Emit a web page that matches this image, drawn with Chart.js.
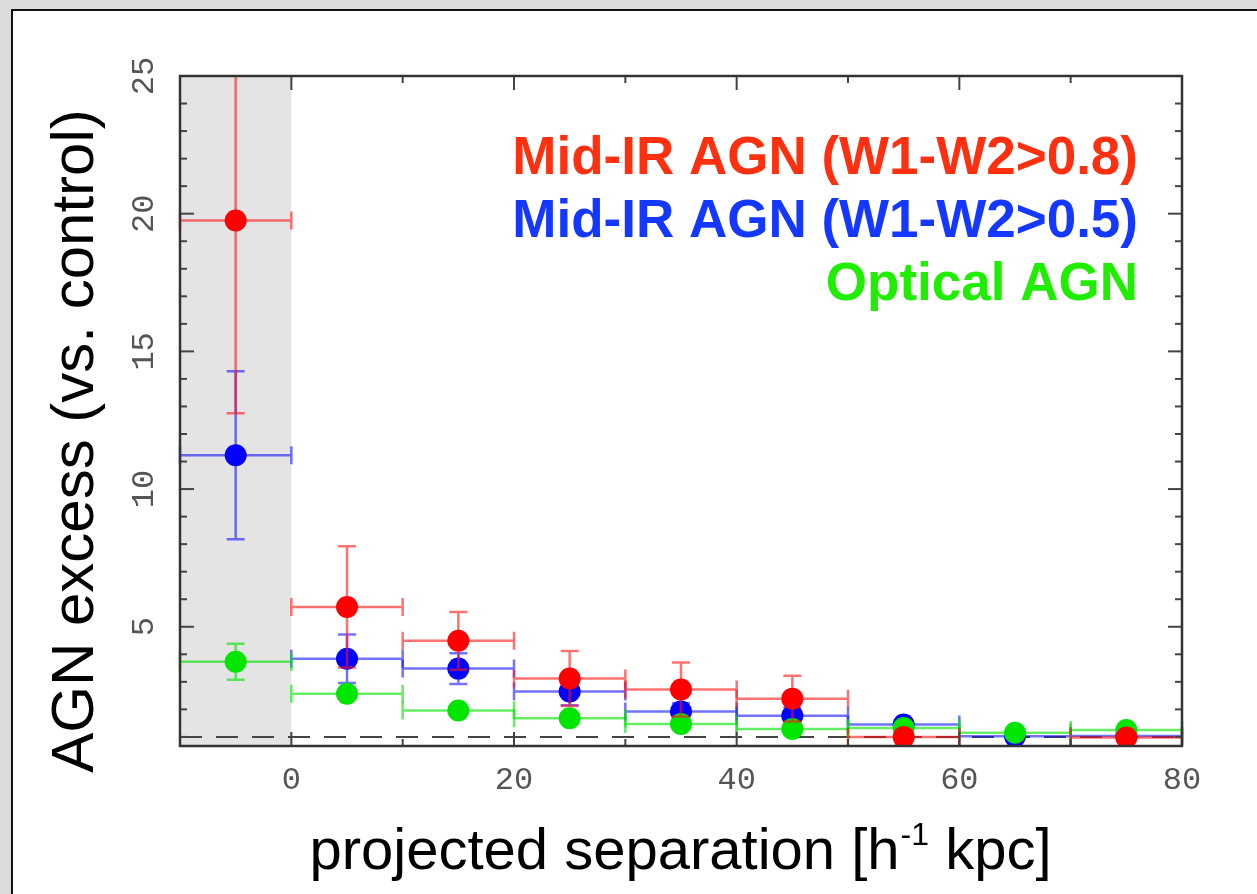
<!DOCTYPE html>
<html>
<head>
<meta charset="utf-8">
<script src="https://cdn.jsdelivr.net/npm/chart.js@4.4.1/dist/chart.umd.min.js"></script>
<style>
  html, body { margin: 0; padding: 0; width: 1257px; height: 894px; overflow: hidden; background: #dcdcdc; }
  #panel { position: absolute; left: 11px; top: 9px; width: 1300px; height: 940px; background: #fff; border: 2px solid #111; }
  #excess-chart { position: absolute; left: 0; top: 0; }
</style>
</head>
<body>
<div id="panel"></div>
<canvas id="excess-chart" width="1257" height="894"></canvas>
<script>
// bin centres of projected separation (h^-1 kpc), each bin 10 kpc wide
const binCenters = [-5, 5, 15, 25, 35, 45, 55, 65, 75];
const binHalfWidth = 5;

// Mid-IR AGN (W1-W2>0.8)
const midIr08Excess = [19.75, 5.72, 4.49, 3.12, 2.72, 2.39, 1.0, null, 0.98];
const midIr08Error  = [7.0, 2.2, 1.05, 1.0, 0.98, 0.83, 0.25, null, 0.2];

// Mid-IR AGN (W1-W2>0.5)
const midIr05Excess = [11.23, 3.84, 3.48, 2.65, 1.92, 1.77, 1.45, 1.02, 1.03];
const midIr05Error  = [3.05, 0.88, 0.56, 0.5, 0.3, 0.3, 0.15, 0.05, 0.03];

// Optical AGN
const opticalExcess = [3.73, 2.57, 1.96, 1.68, 1.47, 1.29, 1.32, 1.15, 1.25];
const opticalError  = [0.65, 0.1, 0.08, 0.07, 0.06, 0.06, 0.05, 0.05, 0.05];

const xMajorTicks = [0, 20, 40, 60, 80];
const xMinorTicks = [-10, 10, 30, 50, 70];
const yMajorTicks = [5, 10, 15, 20, 25];
const yMinorTicks = [1, 2, 3, 4, 6, 7, 8, 9, 11, 12, 13, 14, 16, 17, 18, 19, 21, 22, 23, 24];

const legendLines = [
  { text: 'Mid-IR AGN (W1-W2>0.8)', color: '#ff3010' },
  { text: 'Mid-IR AGN (W1-W2>0.5)', color: '#1438ff' },
  { text: 'Optical AGN', color: '#20ee00' }
];

function toPoints(values, errors) {
  return binCenters.map((x, i) => values[i] == null ? null : { x: x, y: values[i], err: errors[i] })
    .filter(p => p !== null);
}

// error bars are drawn right before each dataset's dots
const errorBarPlugin = {
  id: 'errorBars',
  beforeDatasetDraw(chart, args) {
    const { ctx, chartArea } = chart;
    const ds = chart.data.datasets[args.index];
    const xs = chart.scales.x, ys = chart.scales.y;
    ctx.save();
    ctx.beginPath();
    ctx.rect(chartArea.left - 10, chartArea.top, chartArea.width + 20, chartArea.height);
    ctx.clip();
    ctx.strokeStyle = ds.barColor;
    ctx.lineWidth = 2.5;
    ds.data.forEach(p => {
      const px = xs.getPixelForValue(p.x);
      const py = ys.getPixelForValue(p.y);
      const x0 = xs.getPixelForValue(p.x - binHalfWidth);
      const x1 = xs.getPixelForValue(p.x + binHalfWidth);
      ctx.beginPath();
      ctx.moveTo(x0, py); ctx.lineTo(x1, py);
      ctx.moveTo(x0, py - 9); ctx.lineTo(x0, py + 9);
      ctx.moveTo(x1, py - 9); ctx.lineTo(x1, py + 9);
      if (p.err > 0) {
        const yTop = ys.getPixelForValue(p.y + p.err);
        const yBot = ys.getPixelForValue(p.y - p.err);
        ctx.moveTo(px, yTop); ctx.lineTo(px, yBot);
        ctx.moveTo(px - 9, yTop); ctx.lineTo(px + 9, yTop);
        ctx.moveTo(px - 9, yBot); ctx.lineTo(px + 9, yBot);
      }
      ctx.stroke();
    });
    ctx.restore();
  }
};

// shaded innermost bin and the unity line
const backgroundPlugin = {
  id: 'plotBackground',
  beforeDatasetsDraw(chart) {
    const { ctx, chartArea } = chart;
    const xs = chart.scales.x, ys = chart.scales.y;
    ctx.save();
    ctx.fillStyle = '#e4e4e4';
    const xs0 = xs.getPixelForValue(-10), xs1 = xs.getPixelForValue(0);
    ctx.fillRect(xs0, chartArea.top, xs1 - xs0, chartArea.height);
    ctx.strokeStyle = '#444';
    ctx.lineWidth = 2;
    ctx.setLineDash([22, 14]);
    const y1 = ys.getPixelForValue(1);
    ctx.beginPath();
    ctx.moveTo(chartArea.left, y1);
    ctx.lineTo(chartArea.right, y1);
    ctx.stroke();
    ctx.restore();
  }
};

// box frame with inward ticks, tick labels, axis titles and text legend
const framePlugin = {
  id: 'frame',
  afterDraw(chart) {
    const { ctx, chartArea: a } = chart;
    const xs = chart.scales.x, ys = chart.scales.y;
    ctx.save();
    ctx.strokeStyle = '#444';
    ctx.lineWidth = 2;
    const tick = (x0, y0, x1, y1) => { ctx.beginPath(); ctx.moveTo(x0, y0); ctx.lineTo(x1, y1); ctx.stroke(); };
    xMajorTicks.forEach(v => {
      const px = xs.getPixelForValue(v);
      tick(px, a.bottom, px, a.bottom - 14);
      tick(px, a.top, px, a.top + 14);
    });
    xMinorTicks.forEach(v => {
      const px = xs.getPixelForValue(v);
      tick(px, a.bottom, px, a.bottom - 7);
      tick(px, a.top, px, a.top + 7);
    });
    yMajorTicks.forEach(v => {
      const py = ys.getPixelForValue(v);
      tick(a.left, py, a.left + 14, py);
      tick(a.right, py, a.right - 14, py);
    });
    yMinorTicks.forEach(v => {
      const py = ys.getPixelForValue(v);
      tick(a.left, py, a.left + 7, py);
      tick(a.right, py, a.right - 7, py);
    });
    ctx.strokeStyle = '#333';
    ctx.lineWidth = 2.5;
    ctx.strokeRect(a.left, a.top, a.width, a.height);

    // tick labels
    ctx.fillStyle = '#555';
    ctx.font = '32px "Liberation Mono"';
    ctx.textAlign = 'center';
    ctx.textBaseline = 'middle';
    xMajorTicks.forEach(v => ctx.fillText(String(v), xs.getPixelForValue(v), 781));
    yMajorTicks.forEach(v => {
      ctx.save();
      ctx.translate(144, ys.getPixelForValue(v));
      ctx.rotate(-Math.PI / 2);
      ctx.fillText(String(v), 0, 1);
      ctx.restore();
    });

    // axis titles
    ctx.fillStyle = '#000';
    ctx.save();
    ctx.translate(76, 441);
    ctx.rotate(-Math.PI / 2);
    ctx.font = '60px "Liberation Sans"';
    ctx.textAlign = 'center';
    ctx.textBaseline = 'middle';
    ctx.fillText('AGN excess (vs. control)', 0, 0);
    ctx.restore();

    const mainFont = '58px "Liberation Sans"', supFont = '32px "Liberation Sans"';
    const partA = 'projected separation [h', partSup = '-1', partB = ' kpc]';
    ctx.font = mainFont;
    const wA = ctx.measureText(partA).width, wB = ctx.measureText(partB).width;
    ctx.font = supFont;
    const wS = ctx.measureText(partSup).width;
    let tx = 680 - (wA + wS + wB) / 2;
    ctx.textAlign = 'left';
    ctx.textBaseline = 'alphabetic';
    ctx.font = mainFont;
    ctx.fillText(partA, tx, 869);
    ctx.font = supFont;
    ctx.fillText(partSup, tx + wA + 1, 845);
    ctx.font = mainFont;
    ctx.fillText(partB, tx + wA + wS + 1, 869);

    // legend text
    ctx.font = 'bold 53px "Liberation Sans"';
    ctx.textAlign = 'right';
    legendLines.forEach((l, i) => {
      ctx.fillStyle = l.color;
      ctx.fillText(l.text, 1138, 174 + i * 63);
    });
    ctx.restore();
  }
};

new Chart(document.getElementById('excess-chart'), {
  type: 'scatter',
  data: {
    datasets: [
      {
        label: 'Mid-IR AGN (W1-W2>0.8)',
        data: toPoints(midIr08Excess, midIr08Error),
        backgroundColor: '#ff0000',
        barColor: 'rgba(255, 20, 20, 0.6)',
        order: 0
      },
      {
        label: 'Optical AGN',
        data: toPoints(opticalExcess, opticalError),
        backgroundColor: '#00e600',
        barColor: 'rgba(0, 225, 0, 0.6)',
        order: 1
      },
      {
        label: 'Mid-IR AGN (W1-W2>0.5)',
        data: toPoints(midIr05Excess, midIr05Error),
        backgroundColor: '#0000ff',
        barColor: 'rgba(20, 20, 255, 0.6)',
        order: 2
      }
    ]
  },
  options: {
    responsive: false,
    animation: false,
    devicePixelRatio: 1,
    layout: { padding: { left: 180, top: 76, right: 75, bottom: 148 } },
    elements: { point: { radius: 11, borderWidth: 0, hoverRadius: 11 } },
    plugins: { legend: { display: false }, tooltip: { enabled: false } },
    scales: {
      x: { type: 'linear', min: -10, max: 80, display: false },
      y: { type: 'linear', min: 0.67, max: 25, display: false }
    }
  },
  plugins: [backgroundPlugin, errorBarPlugin, framePlugin]
});
</script>
</body>
</html>
